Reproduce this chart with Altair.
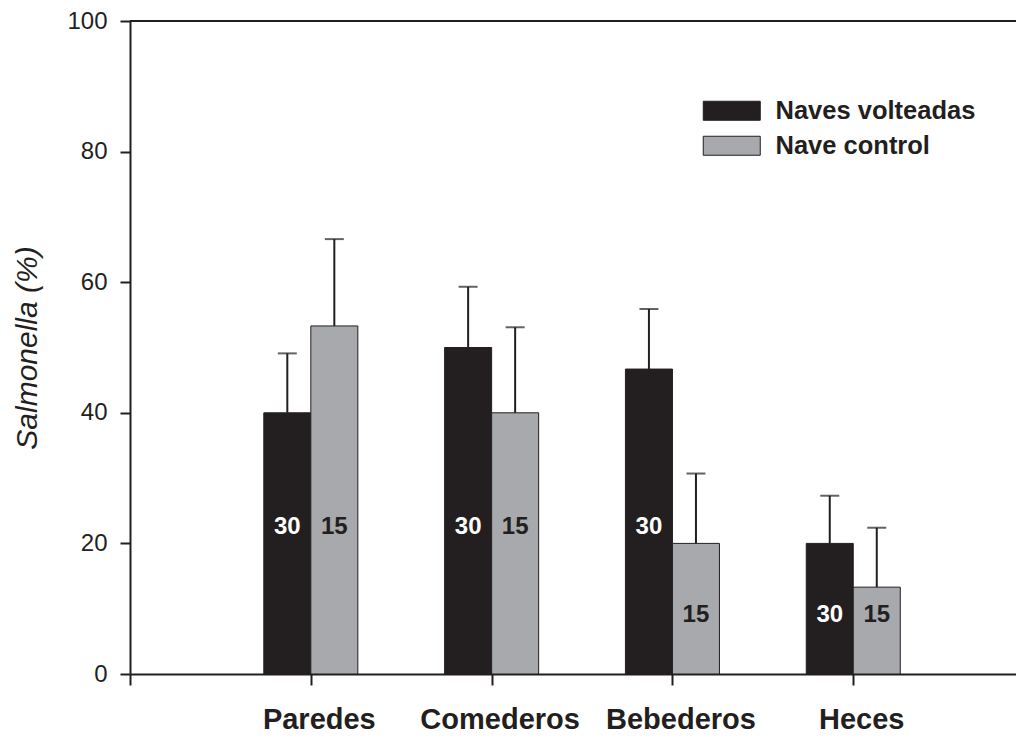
import json
import altair as alt
import pandas as pd

# ---- data ----
categories = ["Paredes", "Comederos", "Bebederos", "Heces"]
series = ["Naves volteadas", "Nave control"]
volteadas = [40.0, 50.0, 46.7, 20.0]
volteadas_upper = [49.1, 59.3, 55.9, 27.3]
control = [53.3, 40.0, 20.0, 13.3]
control_upper = [66.6, 53.1, 30.7, 22.4]
n_labels = ["30", "15"]
y_ticks = [0, 20, 40, 60, 80, 100]

INK = "#231f20"
GREY = "#a7a9ac"
FONT = "Liberation Sans"
BAR_W = 0.26

rows = []
for i, cat in enumerate(categories):
    pos = i + 1
    for s_i, (s, vals, ups) in enumerate(
        [(series[0], volteadas, volteadas_upper), (series[1], control, control_upper)]
    ):
        x0 = pos - BAR_W if s_i == 0 else pos
        x1 = x0 + BAR_W
        rows.append(dict(cat=cat, series=s, x0=x0, x1=x1, xc=(x0 + x1) / 2,
                         value=vals[i], upper=ups[i], n=n_labels[s_i]))
df = pd.DataFrame(rows)

label_expr = json.dumps([""] + categories) + "[datum.value]"

x_scale = alt.Scale(domain=[0, 4.9], nice=False, zero=False)
y_scale = alt.Scale(domain=[0, 100], nice=False)

base = alt.Chart(df)

bars = base.mark_bar(stroke=INK, strokeWidth=1).encode(
    x=alt.X("x0:Q", scale=x_scale, axis=alt.Axis(
        values=[0, 1, 2, 3, 4], labelExpr=label_expr, title=None, grid=False,
        tickSize=11, tickWidth=2, tickColor=INK, domainColor=INK, domainWidth=2,
        labelFont=FONT, labelFontSize=29, labelFontWeight="bold", labelColor=INK,
        labelPadding=20, labelOffset=8)),
    x2="x1:Q",
    y=alt.Y("value:Q", scale=y_scale, axis=alt.Axis(
        values=y_ticks, grid=False, title="Salmonella (%)",
        titleFont=FONT, titleFontSize=30, titleFontStyle="italic", titleFontWeight="normal",
        titleColor=INK, titleX=-94, titleBaseline="alphabetic",
        tickSize=10, tickWidth=2, tickColor=INK, domainColor=INK, domainWidth=2,
        labelFont=FONT, labelFontSize=24, labelColor=INK, labelPadding=13)),
    y2=alt.datum(0),
    color=alt.Color("series:N", scale=alt.Scale(domain=series, range=[INK, GREY]),
                    legend=alt.Legend(
                        title=None, orient="none", legendX=589, legendY=77, padding=0,
                        symbolType="M-3,-1H3V1H-3Z", symbolSize=361,
                        symbolStrokeColor=INK, symbolStrokeWidth=1, symbolOpacity=1,
                        labelFont=FONT, labelFontSize=25.5, labelFontWeight="bold",
                        labelColor=INK, labelOffset=31, rowPadding=8, labelLimit=400)),
)

err = base.mark_rule(color=INK, strokeWidth=2).encode(
    x="xc:Q", y="value:Q", y2="upper:Q")

caps = base.mark_tick(color=INK, thickness=2, size=19, orient="horizontal").encode(
    x="xc:Q", y="upper:Q")

texts = base.transform_calculate(
    label_y="datum.value >= 30 ? 22.5 : 9"
).mark_text(font=FONT, fontSize=24, fontWeight="bold", baseline="middle").encode(
    x="xc:Q", y="label_y:Q", text="n:N",
    color=alt.condition(f"datum.series == '{series[0]}'", alt.value("white"), alt.value(INK)),
)

top = alt.Chart(pd.DataFrame({"y": [100]})).mark_rule(color=INK, strokeWidth=2).encode(
    y=alt.Y("y:Q", scale=y_scale))

chart = alt.layer(bars, err, caps, texts, top).properties(
    width=886, height=653,
    padding={"left": 122, "top": 13, "right": 0, "bottom": 60},
    autosize=alt.AutoSizeParams(type="none"),
    background="white",
).configure_view(stroke=None)

chart.save("out.html", embed_options={"renderer": "svg", "actions": False})
